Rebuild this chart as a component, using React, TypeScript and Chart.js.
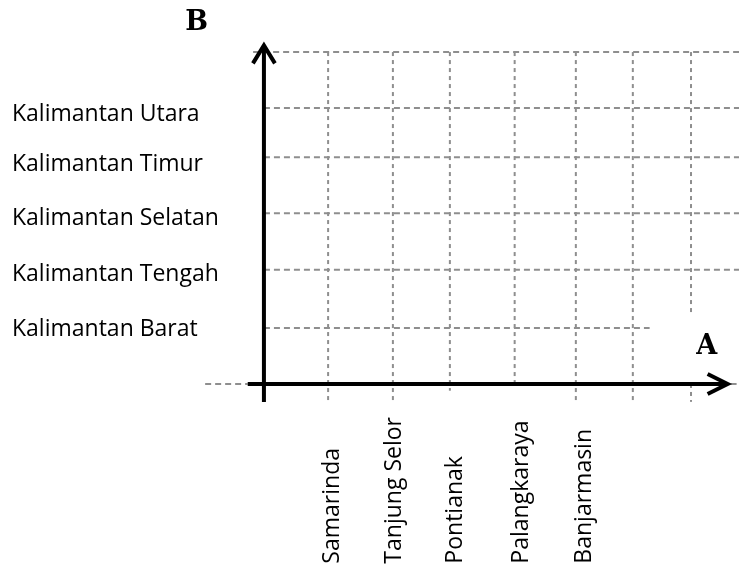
import React, { useEffect, useRef } from "react";
import { Chart, registerables } from "chart.js";

Chart.register(...registerables);

// ---- Data (values in axis units; origin = where axes cross) ----
const xCategories = ["Samarinda", "Tanjung Selor", "Pontianak", "Palangkaraya", "Banjarmasin"];
const xCategoryPositions = [1.15, 2.17, 3.2, 4.3, 5.35];

const yCategories = [
  "Kalimantan Barat",
  "Kalimantan Tengah",
  "Kalimantan Selatan",
  "Kalimantan Timur",
  "Kalimantan Utara",
];
const yCategoryPositions = [0.98, 1.96, 2.96, 3.93, 4.82];

const X_MIN = -4.4;
const X_MAX = 7.92;
const Y_MIN = -3.27;
const Y_MAX = 6.86;

// vertical dashed grid segments: [x, yFrom, yTo]
const verticalGrid: [number, number, number][] = [
  [1.07, -0.32, 5.93],
  [2.15, -0.35, 5.93],
  [3.1, -0.12, 5.93],
  [4.18, 0, 5.93],
  [5.2, -0.32, 5.93],
  [6.15, -0.32, 5.93],
  [7.12, 1.27, 5.93],
  [7.12, -0.32, 0],
];

// horizontal dashed grid segments: [y, xFrom, xTo]
const horizontalGrid: [number, number, number][] = [
  [1.0, 0, 6.43],
  [2.04, 0, X_MAX],
  [3.05, 0, X_MAX],
  [4.05, 0, X_MAX],
  [4.93, 0, X_MAX],
  [5.93, -0.18, X_MAX],
  [0, -0.98, -0.27],
  [0, 7.78, X_MAX],
];

// solid axes extents
const xAxisExtent = [-0.27, 7.73];
const yAxisExtent = [-0.32, 6.05];

// axis titles
const xAxisTitle = "A";
const xAxisTitlePos = [7.38, 0.66];
const yAxisTitle = "B";
const yAxisTitlePos = [-1.12, 6.45];
const xLabelBottom = -3.21;

const LABEL_FONT = '23px "Open Sans"';
const TITLE_FONT = 'bold 27px "DejaVu Serif"';

const sketchPlugin = {
  id: "sketch",
  afterDraw(chart: any) {
    const ctx: CanvasRenderingContext2D = chart.ctx;
    const xs = chart.scales.x;
    const ys = chart.scales.y;
    const px = (v: number) => xs.getPixelForValue(v);
    const py = (v: number) => ys.getPixelForValue(v);

    ctx.save();
    // grid
    ctx.strokeStyle = "#8e8e8e";
    ctx.lineWidth = 2;
    ctx.setLineDash([4, 4]);
    verticalGrid.forEach(([x, a, b]) => {
      ctx.beginPath();
      ctx.moveTo(px(x), py(b));
      ctx.lineTo(px(x), py(a));
      ctx.stroke();
    });
    ctx.setLineDash([6, 4]);
    horizontalGrid.forEach(([y, a, b]) => {
      ctx.beginPath();
      ctx.moveTo(px(a), py(y));
      ctx.lineTo(px(b), py(y));
      ctx.stroke();
    });
    ctx.setLineDash([]);

    // axes
    ctx.strokeStyle = "#000";
    ctx.lineWidth = 4;
    ctx.lineCap = "butt";
    const ox = px(0);
    const oy = py(0);
    ctx.beginPath();
    ctx.moveTo(px(xAxisExtent[0]), oy);
    ctx.lineTo(px(xAxisExtent[1]), oy);
    ctx.stroke();
    ctx.beginPath();
    ctx.moveTo(ox, py(yAxisExtent[0]));
    ctx.lineTo(ox, py(yAxisExtent[1]));
    ctx.stroke();
    // arrow heads
    ctx.lineJoin = "miter";
    const tx = px(xAxisExtent[1]);
    ctx.beginPath();
    ctx.moveTo(tx - 20, oy - 10);
    ctx.lineTo(tx, oy);
    ctx.lineTo(tx - 20, oy + 10);
    ctx.stroke();
    const ty = py(yAxisExtent[1]);
    ctx.beginPath();
    ctx.moveTo(ox - 11, ty + 18);
    ctx.lineTo(ox, ty);
    ctx.lineTo(ox + 11, ty + 18);
    ctx.stroke();

    // y category labels (left aligned at left edge)
    ctx.fillStyle = "#000";
    ctx.font = LABEL_FONT;
    ctx.textAlign = "left";
    ctx.textBaseline = "middle";
    yCategories.forEach((lab, i) => {
      ctx.fillText(lab, 12, py(yCategoryPositions[i]));
    });

    // x category labels, rotated
    xCategories.forEach((lab, i) => {
      ctx.save();
      ctx.translate(px(xCategoryPositions[i]), py(xLabelBottom));
      ctx.rotate(-Math.PI / 2);
      ctx.textAlign = "left";
      ctx.textBaseline = "middle";
      ctx.fillText(lab, 0, 0);
      ctx.restore();
    });

    // axis titles
    ctx.font = TITLE_FONT;
    ctx.textAlign = "center";
    ctx.textBaseline = "middle";
    ctx.fillText(xAxisTitle, px(xAxisTitlePos[0]), py(xAxisTitlePos[1]));
    ctx.fillText(yAxisTitle, px(yAxisTitlePos[0]), py(yAxisTitlePos[1]));
    ctx.restore();
  },
};

export default function App() {
  const ref = useRef<HTMLCanvasElement | null>(null);
  useEffect(() => {
    if (!ref.current) return;
    const chart = new Chart(ref.current, {
      type: "scatter",
      data: { datasets: [{ data: [] }] },
      options: {
        animation: false,
        responsive: false,
        layout: { padding: 0 },
        plugins: { legend: { display: false }, tooltip: { enabled: false } },
        scales: {
          x: { type: "linear", display: false, min: X_MIN, max: X_MAX },
          y: { type: "linear", display: false, min: Y_MIN, max: Y_MAX },
        },
      },
      plugins: [sketchPlugin],
    });
    return () => chart.destroy();
  }, []);
  return (
    <div style={{ position: "absolute", left: 0, top: 0, width: 739, height: 567, background: "#fff" }}>
      <canvas ref={ref} width={739} height={567} style={{ display: "block" }} />
    </div>
  );
}
